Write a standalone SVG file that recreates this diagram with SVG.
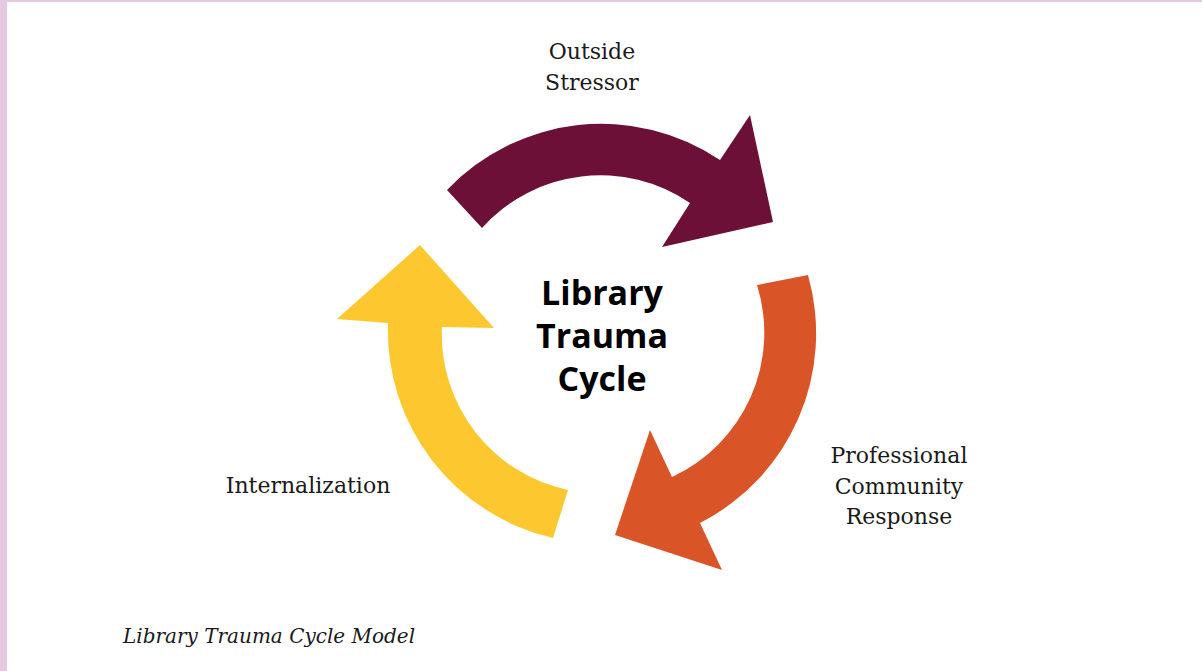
<svg xmlns="http://www.w3.org/2000/svg" width="1202" height="671" viewBox="0 0 1202 671">
  <style>
    .lbl { font-family: "DejaVu Serif", "Liberation Serif", serif; font-size: 22px; fill: #1a1a1a; text-anchor: middle; }
    .title { font-family: "Open Sans", "Noto Sans", sans-serif; font-weight: bold; font-size: 34px; fill: #000; text-anchor: middle; }
    .cap { font-family: "DejaVu Serif", "Liberation Serif", serif; font-style: italic; font-size: 20px; fill: #1a1a1a; }
  </style>
  <rect x="0" y="0" width="1202" height="671" fill="#ffffff"/>
  <rect x="0" y="0" width="1202" height="2" fill="#e6c8e3"/>
  <rect x="0" y="0" width="7" height="671" fill="#e6c8e3"/>
  <g id="connectors">
    <path id="arrow-maroon" fill="#6d1038" d="M 447,190 A 213 213 0 0 1 720,160 L 750,115 L 773,222 L 662,247 L 690,203 A 159 159 0 0 0 482,228 Z"/>
    <path id="arrow-orange" fill="#d95427" d="M 808,275 A 213 213 0 0 1 700,523 L 722,570 L 615,535 L 650,430 L 672,477 A 159 159 0 0 0 757,285 Z"/>
    <path id="arrow-yellow" fill="#fdc82f" d="M 553,538 A 213 213 0 0 1 388,323 L 337,319 L 420,245 L 494,328 L 442,327 A 159 159 0 0 0 568,490 Z"/>
  </g>
  <g id="node-center">
    <text class="title" x="602" y="305">Library</text>
    <text class="title" x="602" y="348">Trauma</text>
    <text class="title" x="602" y="391">Cycle</text>
  </g>
  <g id="node-outside-stressor">
    <text class="lbl" x="592" y="59">Outside</text>
    <text class="lbl" x="592" y="90">Stressor</text>
  </g>
  <g id="node-professional-community-response">
    <text class="lbl" x="899" y="463">Professional</text>
    <text class="lbl" x="899" y="494">Community</text>
    <text class="lbl" x="899" y="524">Response</text>
  </g>
  <g id="node-internalization">
    <text class="lbl" x="308" y="493">Internalization</text>
  </g>
  <g id="caption">
    <text class="cap" x="123" y="643">Library Trauma Cycle Model</text>
  </g>
</svg>
